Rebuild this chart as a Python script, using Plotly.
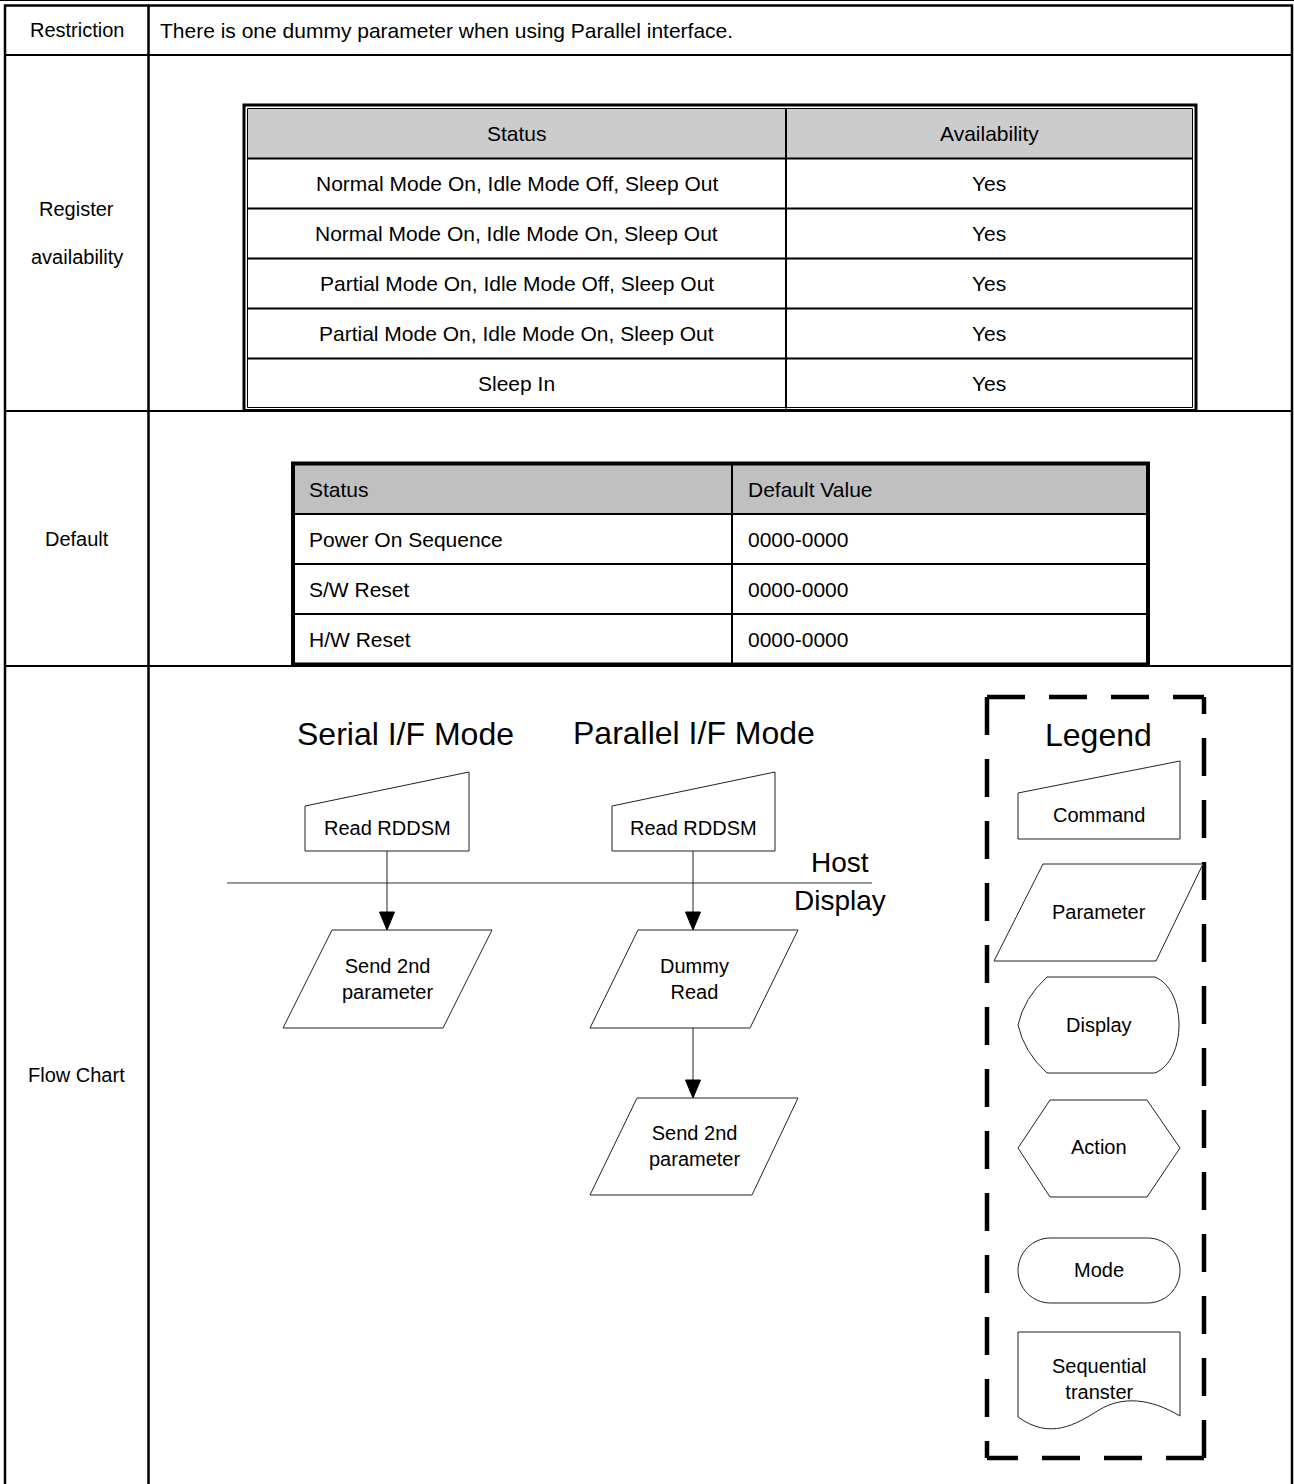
import plotly.graph_objects as go

# ---------------- data ----------------
row_labels = ["Restriction", ["Register", "availability"], "Default", "Flow Chart"]
restriction_text = "There is one dummy parameter when using Parallel interface."

reg_header = ["Status", "Availability"]
reg_status = [
    "Normal Mode On, Idle Mode Off, Sleep Out",
    "Normal Mode On, Idle Mode On, Sleep Out",
    "Partial Mode On, Idle Mode Off, Sleep Out",
    "Partial Mode On, Idle Mode On, Sleep Out",
    "Sleep In",
]
reg_avail = ["Yes", "Yes", "Yes", "Yes", "Yes"]

def_header = ["Status", "Default Value"]
def_status = ["Power On Sequence", "S/W Reset", "H/W Reset"]
def_value = ["0000-0000", "0000-0000", "0000-0000"]

flow_titles = ["Serial I/F Mode", "Parallel I/F Mode"]
serial_steps = ["Read RDDSM", "Send 2nd<br>parameter"]
parallel_steps = ["Read RDDSM", "Dummy<br>Read", "Send 2nd<br>parameter"]
legend_items = ["Command", "Parameter", "Display", "Action", "Mode", "Sequential<br>transter"]

# ---------------- layout helpers ----------------
W, H = 1294, 1484
FONT = "Liberation Sans, Arial, sans-serif"
TXT = "#000000"
TS = 21      # table text size
FS = 20      # flow-chart label size
shapes = []
annots = []

def line(x0, y0, x1, y1, w=1, color="black", dash=None):
    d = dict(type="line", x0=x0, y0=y0, x1=x1, y1=y1, xref="x", yref="y",
             line=dict(color=color, width=w))
    if dash:
        d["line"]["dash"] = dash
    shapes.append(d)

def rect(x0, y0, x1, y1, w=1, color="black", fill=None):
    d = dict(type="rect", x0=x0, y0=y0, x1=x1, y1=y1, xref="x", yref="y",
             line=dict(color=color, width=w))
    if fill:
        d["fillcolor"] = fill
    if w == 0:
        d["line"] = dict(width=0)
    shapes.append(d)

def path(p, w=1, color="#222222", fill="white"):
    shapes.append(dict(type="path", path=p, xref="x", yref="y",
                       line=dict(color=color, width=w), fillcolor=fill))

def text(x, y, s, size=19, anchor="center"):
    annots.append(dict(x=x, y=y, xref="x", yref="y", text=s, showarrow=False,
                       xanchor=anchor, yanchor="middle",
                       font=dict(family=FONT, size=size, color=TXT)))

def poly(pts):
    return "M " + " L ".join(f"{x},{y}" for x, y in pts) + " Z"

def command_shape(xl, xr, ytr, ytl, yb):
    path(poly([(xl, ytl), (xr, ytr), (xr, yb), (xl, yb)]))

def param_shape(xtl, xtr, xbl, xbr, yt, yb):
    path(poly([(xtl, yt), (xtr, yt), (xbr, yb), (xbl, yb)]))

def arrow(x, y0, y1):
    line(x, y0, x, y1 - 17, w=1, color="#222222")
    path(poly([(x - 7.5, y1 - 18), (x + 7.5, y1 - 18), (x, y1)]), w=1,
         color="black", fill="black")

# ---------------- outer table ----------------
XL, XR, XC = 5, 1292, 148.5
row_y = [5.5, 55, 411, 666, 1490]
rect(XL, row_y[0], XR, 1490, w=2.5)
line(XC, row_y[0], XC, 1490, w=2.5)
for yy in row_y[1:4]:
    line(XL, yy, XR, yy, w=2)
line(0, 0.5, W, 0.5, w=1)

for i, lab in enumerate(row_labels):
    yc = (row_y[i] + min(row_y[i + 1], H)) / 2
    if isinstance(lab, list):
        text((XL + XC) / 2, yc - 24, lab[0], size=TS - 1)
        text((XL + XC) / 2, yc + 24, lab[1], size=TS - 1)
    else:
        text((XL + XC) / 2, yc, lab, size=TS - 1)
text(158, (row_y[0] + row_y[1]) / 2, restriction_text, size=TS, anchor="left")

# ---------------- register availability table ----------------
rx0, rx1, rcol = 247.5, 1192.5, 786
ry0, rh = 108.5, 50
nrows = len(reg_status) + 1
rect(rx0, ry0, rx1, ry0 + 49.5, w=0, fill="#cccccc")
rect(rx0 - 3.5, ry0 - 3.5, rx1 + 3.5, ry0 + nrows * rh + 2, w=3)
rect(rx0, ry0, rx1, ry0 + nrows * rh - 1, w=1)
for k in range(1, nrows):
    line(rx0, ry0 + k * rh, rx1, ry0 + k * rh, w=2)
line(rcol, ry0, rcol, ry0 + nrows * rh, w=2)
rows_reg = [reg_header] + [[s, a] for s, a in zip(reg_status, reg_avail)]
for k, (s, a) in enumerate(rows_reg):
    yc = ry0 + k * rh + rh / 2
    text((rx0 + rcol) / 2, yc, s, size=TS)
    text((rcol + rx1) / 2, yc, a, size=TS)

# ---------------- default table ----------------
dx0, dx1, dcol = 293, 1148, 732
dy0, dh = 464.5, 50
drows = len(def_status) + 1
rect(dx0, dy0, dx1, dy0 + 49, w=0, fill="#c0c0c0")
for k in range(1, drows):
    line(dx0, dy0 + k * dh - 0.5, dx1, dy0 + k * dh - 0.5, w=2)
line(dcol, dy0, dcol, dy0 + drows * dh, w=2)
rect(dx0, dy0 - 1, dx1, dy0 + drows * dh, w=4)
rows_def = [def_header] + [[s, v] for s, v in zip(def_status, def_value)]
for k, (s, v) in enumerate(rows_def):
    yc = dy0 + k * dh + dh / 2
    text(dx0 + 14, yc, s, size=TS, anchor="left")
    text(dcol + 14, yc, v, size=TS, anchor="left")

# ---------------- flow chart ----------------
line(227, 883, 872, 883, w=1, color="#333333")
text(840, 862, "Host", size=28)
text(840, 900, "Display", size=28)

# Serial
text(405, 734, flow_titles[0], size=32)
command_shape(305, 469, 772, 806, 851)
text(387, 828, serial_steps[0], size=FS)
arrow(387, 851, 930)
param_shape(332, 492, 283, 443, 930, 1028)
text(387, 979, serial_steps[1], size=FS)

# Parallel
text(694, 733, flow_titles[1], size=32)
command_shape(612, 775, 772, 806, 851)
text(693, 828, parallel_steps[0], size=FS)
arrow(693, 851, 930)
param_shape(638, 798, 590, 750, 930, 1028)
text(694, 979, parallel_steps[1], size=FS)
arrow(693, 1028, 1098)
param_shape(637, 798, 590, 752, 1098, 1195)
text(694, 1146, parallel_steps[2], size=FS)

# ---------------- legend ----------------
lx0, lx1, ly0, ly1 = 987, 1204, 697, 1458
dash = "38px,24px"
line(lx0, ly0, lx1, ly0, w=4.5, dash=dash)
line(lx0, ly0, lx0, ly1, w=4.5, dash=dash)
line(lx1, ly1, lx1, ly0, w=4.5, dash=dash)
line(lx1, ly1, lx0, ly1, w=4.5, dash=dash)
text(1098, 735, "Legend", size=32)
lc = 1099

command_shape(1018, 1180, 761, 793, 839)
text(lc, 815, legend_items[0], size=FS)

param_shape(1043, 1203, 994, 1156, 864, 961)
text(lc, 912, legend_items[1], size=FS)

# Display symbol
path("M 1047,977 L 1155,977 C 1187,990 1187,1060 1155,1073 L 1047,1073 "
     "Q 1024,1052 1018,1025 Q 1024,998 1047,977 Z")
text(lc, 1025, legend_items[2], size=FS)

# Action hexagon
path(poly([(1050, 1100), (1147, 1100), (1180, 1148), (1147, 1197),
           (1050, 1197), (1018, 1148)]))
text(lc, 1147, legend_items[3], size=FS)

# Mode stadium
r = 32.5
yt, yb = 1238, 1303
cl, cr = 1018 + r, 1180 - r
k = 0.5523 * r
ym = (yt + yb) / 2
path(f"M {cl},{yt} L {cr},{yt} C {cr + k},{yt} {cr + r},{ym - k} {cr + r},{ym} "
     f"C {cr + r},{ym + k} {cr + k},{yb} {cr},{yb} L {cl},{yb} "
     f"C {cl - k},{yb} {cl - r},{ym + k} {cl - r},{ym} "
     f"C {cl - r},{ym - k} {cl - k},{yt} {cl},{yt} Z")
text(lc, 1270, legend_items[4], size=FS)

# Sequential transfer (document)
path("M 1018,1332 L 1180,1332 L 1180,1416 C 1150,1398 1122,1396 1099,1410 "
     "C 1075,1425 1050,1440 1018,1417 Z")
text(lc, 1379, legend_items[5], size=FS)

# ---------------- figure ----------------
fig = go.Figure()
fig.add_trace(go.Scatter(x=[0, W], y=[0, H], mode="markers",
                         marker=dict(opacity=0), hoverinfo="skip", showlegend=False))
fig.update_layout(
    width=W, height=H, margin=dict(l=0, r=0, t=0, b=0),
    paper_bgcolor="white", plot_bgcolor="white",
    xaxis=dict(range=[0, W], visible=False, fixedrange=True),
    yaxis=dict(range=[H, 0], visible=False, fixedrange=True),
    shapes=shapes, annotations=annots, showlegend=False,
)
fig.write_html("out.html", config={"displayModeBar": False},
               post_script="document.body.style.margin='0';document.body.style.overflow='hidden';")
